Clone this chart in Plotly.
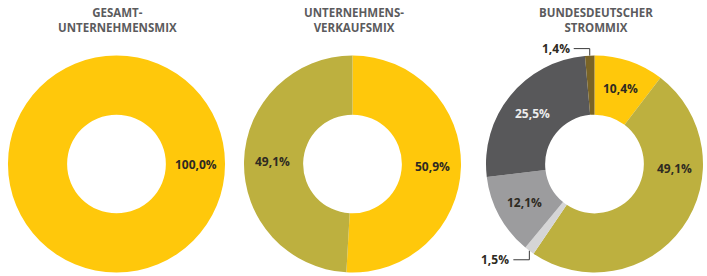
import math
import plotly.graph_objects as go

# ---------------- data ----------------
titles = ["GESAMT-<br>UNTERNEHMENSMIX", "UNTERNEHMENS-<br>VERKAUFSMIX", "BUNDESDEUTSCHER<br>STROMMIX"]

mix1_labels = ["Erneuerbare Energien"]
mix1_values = [100.0]

mix2_labels = ["Erneuerbare Energien", "Sonstige"]
mix2_values = [50.9, 49.1]

mix3_labels = ["Kernkraft", "Erneuerbare Energien", "Erdgas", "Kohle", "Sonstige fossile", "Sonstige"]
mix3_values = [10.4, 49.1, 1.5, 12.1, 25.5, 1.4]

# ---------------- styles ----------------
W, H = 707, 276
YELLOW = "#FFC80B"
OLIVE = "#BDB03F"
colors1 = [YELLOW]
colors2 = [YELLOW, OLIVE]
colors3 = [YELLOW, OLIVE, "#D5D5D6", "#9C9C9E", "#58585A", "#7A6426"]

HOLE = 0.455
R = 108.5
CY = 164.0
centers_x = [116.5, 352.5, 594.5]

label_font = dict(family="Open Sans", size=12, color="#2E2A22", weight="bold")
title_font = dict(family="Open Sans", size=11.5, color="#5B5B5D", weight="bold")

# label placement per chart: None -> slice mid-angle inside ring; number -> fixed angle (deg)
label_angles = [
    [90],
    [None, None],
    [None, 93, "out", None, None, "out"],
]
label_colors = [
    ["#2E2A22"],
    ["#2E2A22", "#2E2A22"],
    ["#2E2A22", "#2E2A22", "#2E2A22", "#2E2A22", "#EDEDED", "#2E2A22"],
]
# outside labels: (vertical elbow offset in px from edge point, horizontal length)
outside_leader = {2: (9, -16), 5: (-7, -16)}

series = [(mix1_labels, mix1_values, colors1),
          (mix2_labels, mix2_values, colors2),
          (mix3_labels, mix3_values, colors3)]

fig = go.Figure()
annotations = []
shapes = []


def px_to_paper(x, y):
    return x / W, 1 - y / H


for i, (labs, vals, cols) in enumerate(series):
    cx = centers_x[i]
    x0, _ = px_to_paper(cx - R, 0)
    x1, _ = px_to_paper(cx + R, 0)
    _, y1 = px_to_paper(0, CY - R)
    _, y0 = px_to_paper(0, CY + R)
    fig.add_trace(go.Pie(
        labels=labs, values=vals, hole=HOLE, sort=False, direction="clockwise",
        rotation=0, marker=dict(colors=cols, line=dict(width=0)),
        textinfo="none", hoverinfo="label+percent", showlegend=False,
        domain=dict(x=[x0, x1], y=[y0, y1]),
    ))
    # title
    tx, ty = px_to_paper(cx + 1, 20)
    annotations.append(dict(x=tx, y=ty, xref="paper", yref="paper", text=titles[i],
                            showarrow=False, font=title_font, xanchor="center",
                            yanchor="middle", align="center"))
    # labels
    total = sum(vals)
    cum = 0.0
    r_mid = R * (1 + HOLE) / 2 + 1
    for j, v in enumerate(vals):
        mid = (cum + v / 2) / total * 360
        cum += v
        txt = f"{v:.1f}%".replace(".", ",")
        spec = label_angles[i][j]
        if spec == "out":
            a = math.radians(mid)
            ex = cx + R * math.sin(a)
            ey = CY - R * math.cos(a)
            dy, dx = outside_leader[j]
            ky = ey + dy
            kx = ex + dx
            # elbow leader line
            shapes.append(dict(type="path", xref="paper", yref="paper",
                               path="M {} {} L {} {} L {} {}".format(
                                   *px_to_paper(ex, ey), *px_to_paper(ex, ky), *px_to_paper(kx, ky)),
                               line=dict(color="#3A3A3A", width=1)))
            lx, ly = px_to_paper(kx - 2, ky)
            annotations.append(dict(x=lx, y=ly, xref="paper", yref="paper", text=txt,
                                    showarrow=False, xanchor="right", yanchor="middle",
                                    font=dict(label_font, color=label_colors[i][j])))
        else:
            ang = mid if spec is None else spec
            a = math.radians(ang)
            lx = cx + r_mid * math.sin(a)
            ly = CY - r_mid * math.cos(a)
            px, py = px_to_paper(lx, ly)
            annotations.append(dict(x=px, y=py, xref="paper", yref="paper", text=txt,
                                    showarrow=False, xanchor="center", yanchor="middle",
                                    font=dict(label_font, color=label_colors[i][j])))

fig.update_layout(
    width=W, height=H, margin=dict(l=0, r=0, t=0, b=0),
    paper_bgcolor="white", plot_bgcolor="white",
    annotations=annotations, shapes=shapes,
)

fig.write_html("out.html", config={"displayModeBar": False},
               post_script="document.body.style.margin='0';document.body.style.overflow='hidden';")
